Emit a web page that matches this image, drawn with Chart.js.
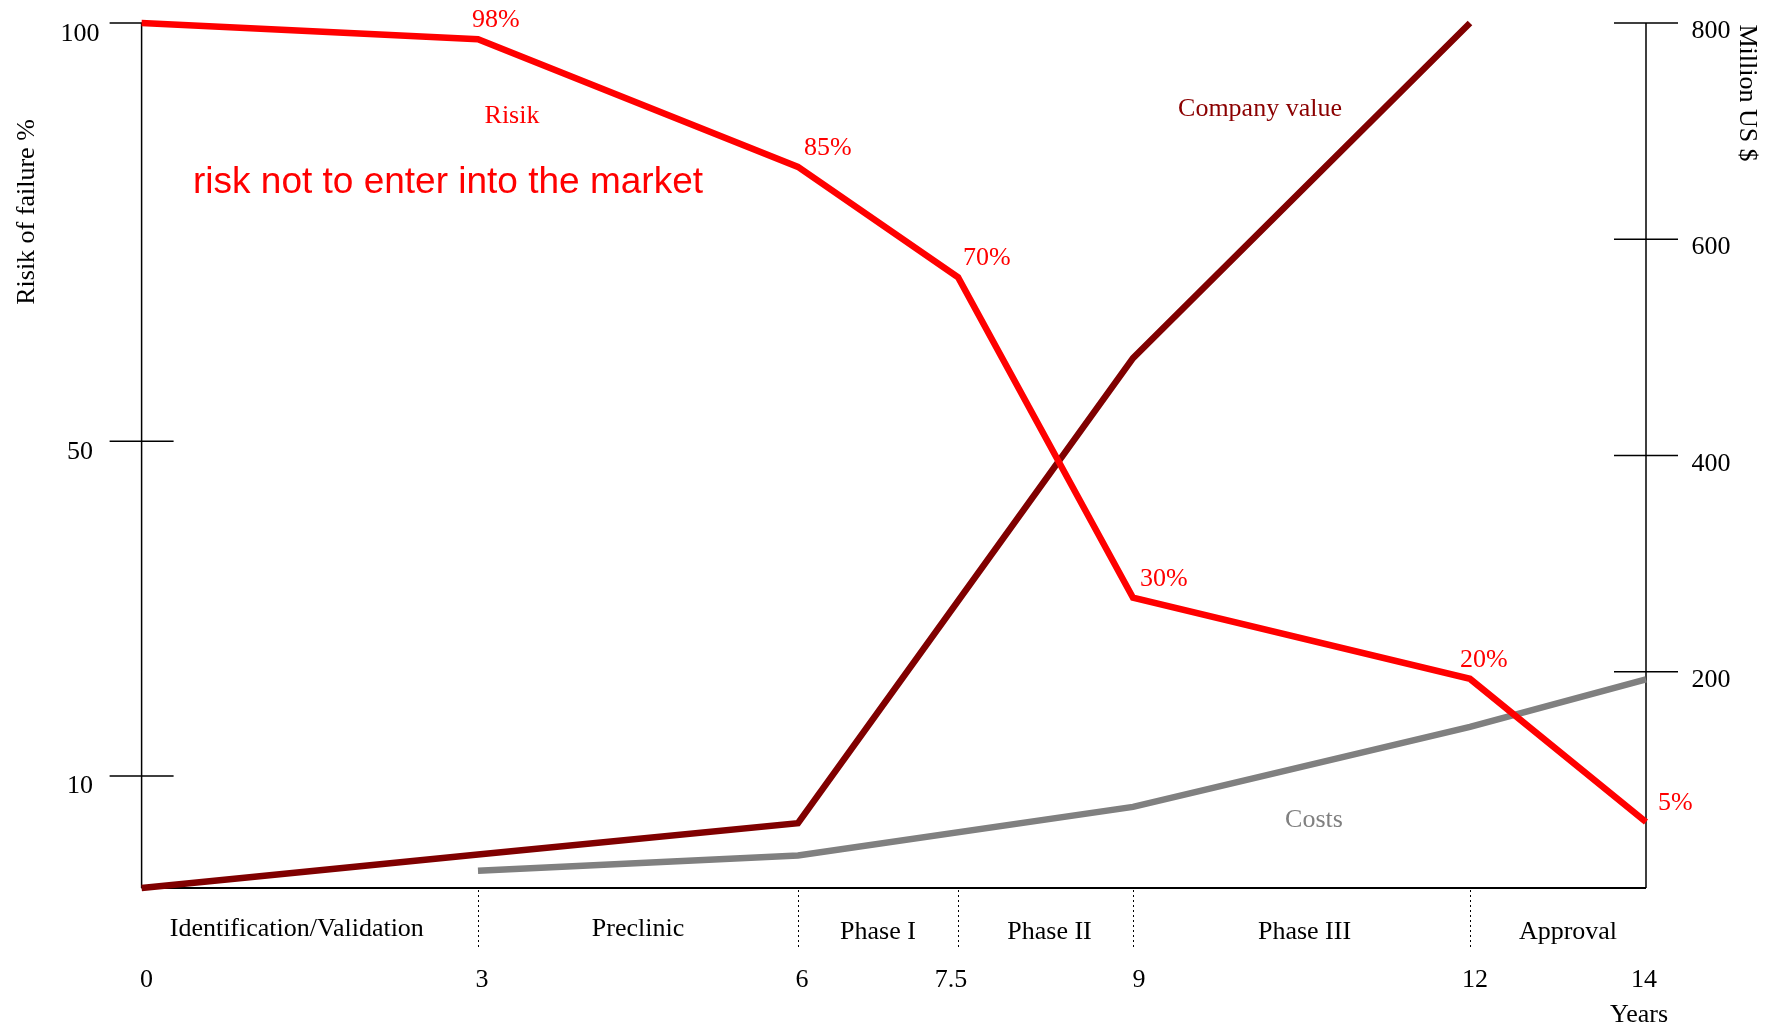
<!DOCTYPE html>
<html>

<head>
    <meta charset="utf-8">
    <title>Drug development: risk, costs and company value</title>
    <script src="https://cdn.jsdelivr.net/npm/chart.js"></script>
    <style>
        body {
            margin: 0;
            background: #fff;
        }

        .wrap {
            width: 1776px;
            height: 1026px;
        }
    </style>
</head>

<body>
    <div class="wrap"><canvas id="riskChart"></canvas></div>

    <script>
        // milestones on the time axis (years) and the phases between them
        const years = [0, 3, 6, 7.5, 9, 12, 14];
        const phases = ['Identification/Validation', 'Preclinic', 'Phase I', 'Phase II', 'Phase III', 'Approval'];

        // risk of failure in % (red curve)
        const riskYears = [0, 3, 6, 7.5, 9, 12, 14];
        const risk = [100, 98.05, 82.8, 69.6, 31.3, 21.6, 4.5];
        const riskLabels = [null, '98%', '85%', '70%', '30%', '20%', '5%'];

        // company value, million US $
        const valueYears = [0, 3, 6, 9, 12];
        const companyValue = [0, 31, 60, 490, 800];

        // costs, million US $
        const costYears = [3, 6, 9, 12, 14];
        const costs = [16, 30, 75, 149, 193];

        const leftTicks = [10, 50, 100];
        const rightTicks = [200, 400, 600, 800];

        // the years are not evenly spaced in the drawing: share of the width at each milestone
        const stopShares = [0, 0.2236, 0.4363, 0.5427, 0.659, 0.883, 1];

        function interp(v, from, to) {
            for (let i = 1; i < from.length; i++) {
                if (v <= from[i] || i === from.length - 1) {
                    const t = (v - from[i - 1]) / (from[i] - from[i - 1]);
                    return to[i - 1] + t * (to[i] - to[i - 1]);
                }
            }
        }

        class PhaseScale extends Chart.LinearScale {
            getPixelForValue(v) {
                return this.getPixelForDecimal(interp(v, years, stopShares));
            }
            getValueForPixel(p) {
                return interp(this.getDecimalForPixel(p), stopShares, years);
            }
        }
        PhaseScale.id = 'phase';
        PhaseScale.defaults = Chart.LinearScale.defaults;
        Chart.register(PhaseScale);

        const serif = '26px "Liberation Serif", "Times New Roman", serif';
        const pts = (xs, ys) => xs.map((x, i) => ({ x: x, y: ys[i] }));

        // small hand nudges so the labels sit where the original puts them
        const yearDx = [5, 4, 4, -7, 6, 5, -2];
        const phaseDx = [-13, 0, 0, 4, 3, 10];
        const riskDx = [0, -6, 6, 5, 7, -10, 12];

        const decorations = {
            id: 'decorations',
            beforeDatasetsDraw(chart) {
                const { ctx, chartArea: a, scales: { x, yL, yR } } = chart;
                ctx.save();
                ctx.strokeStyle = '#000';
                ctx.lineWidth = 1.5;
                ctx.beginPath();
                ctx.moveTo(a.left, a.top);
                ctx.lineTo(a.left, a.bottom);
                ctx.moveTo(a.right, a.bottom);
                ctx.lineTo(a.right, a.top);
                leftTicks.forEach(v => {
                    const y = yL.getPixelForValue(v);
                    ctx.moveTo(a.left - 32, y);
                    ctx.lineTo(a.left + 32, y);
                });
                rightTicks.forEach(v => {
                    const y = yR.getPixelForValue(v);
                    ctx.moveTo(a.right - 32, y);
                    ctx.lineTo(a.right + 32, y);
                });
                ctx.stroke();

                ctx.lineWidth = 2.2;
                ctx.beginPath();
                ctx.moveTo(a.left, a.bottom);
                ctx.lineTo(a.right, a.bottom);
                ctx.stroke();

                // dotted phase borders
                ctx.lineWidth = 1;
                ctx.setLineDash([2, 3]);
                ctx.beginPath();
                years.slice(1, -1).forEach(yr => {
                    const px = Math.round(x.getPixelForValue(yr)) + 0.5;
                    ctx.moveTo(px, a.bottom + 2);
                    ctx.lineTo(px, a.bottom + 60);
                });
                ctx.stroke();
                ctx.restore();
            },
            afterDatasetsDraw(chart) {
                const { ctx, scales: { x, yL, yR } } = chart;
                ctx.save();
                ctx.font = serif;
                ctx.textBaseline = 'alphabetic';

                // tick labels
                ctx.fillStyle = '#000';
                ctx.textAlign = 'center';
                leftTicks.forEach(v => ctx.fillText(String(v), 80, yL.getPixelForValue(v) + 17.5));
                rightTicks.forEach(v => ctx.fillText(String(v), 1711, yR.getPixelForValue(v) + 15));
                years.forEach((yr, i) => ctx.fillText(String(yr), x.getPixelForValue(yr) + yearDx[i], 987));
                ctx.fillText('Years', 1639, 1022);

                // phase names between the milestones
                phases.forEach((p, i) => {
                    const mid = (x.getPixelForValue(years[i]) + x.getPixelForValue(years[i + 1])) / 2;
                    ctx.fillText(p, mid + phaseDx[i], i < 2 ? 936 : 939);
                });

                // axis titles
                ctx.save();
                ctx.translate(34, 212);
                ctx.rotate(-Math.PI / 2);
                ctx.fillText('Risik of failure %', 0, 0);
                ctx.restore();
                ctx.save();
                ctx.translate(1740, 93);
                ctx.rotate(Math.PI / 2);
                ctx.fillText('Million US $', 0, 0);
                ctx.restore();

                // percentages on the risk curve
                ctx.fillStyle = '#ff0000';
                ctx.textAlign = 'left';
                riskLabels.forEach((t, i) => {
                    if (!t) return;
                    ctx.fillText(t, x.getPixelForValue(riskYears[i]) + riskDx[i], yL.getPixelForValue(risk[i]) - 12);
                });

                // curve names
                ctx.textAlign = 'center';
                ctx.fillText('Risik', 512, 123);
                ctx.fillStyle = '#8b0000';
                ctx.fillText('Company value', 1260, 116);
                ctx.fillStyle = '#808080';
                ctx.fillText('Costs', 1314, 827);

                ctx.fillStyle = '#ff0000';
                ctx.textAlign = 'left';
                ctx.font = '37px "Liberation Sans", Arial, sans-serif';
                ctx.fillText('risk not to enter into the market', 193, 193);
                ctx.restore();
            }
        };

        const lineStyle = {
            borderWidth: 6.5,
            pointRadius: 0,
            tension: 0,
            fill: false,
            clip: false,
            borderCapStyle: 'butt',
            borderJoinStyle: 'miter'
        };

        new Chart(document.getElementById('riskChart'), {
            type: 'line',
            data: {
                datasets: [
                    Object.assign({ label: 'Risik', data: pts(riskYears, risk), borderColor: '#ff0000', yAxisID: 'yL', order: 1 }, lineStyle),
                    Object.assign({ label: 'Company value', data: pts(valueYears, companyValue), borderColor: '#800000', yAxisID: 'yR', order: 2 }, lineStyle),
                    Object.assign({ label: 'Costs', data: pts(costYears, costs), borderColor: '#808080', yAxisID: 'yR', order: 3 }, lineStyle)
                ]
            },
            options: {
                responsive: true,
                maintainAspectRatio: false,
                animation: false,
                events: [],
                layout: { padding: { left: 141.6, right: 130, top: 23, bottom: 138 } },
                scales: {
                    x: { type: 'phase', min: 0, max: 14, display: false },
                    yL: { type: 'linear', position: 'left', min: -3.4, max: 100, display: false },
                    yR: { type: 'linear', position: 'right', min: 0, max: 800, display: false }
                },
                plugins: {
                    legend: { display: false },
                    tooltip: { enabled: false }
                }
            },
            plugins: [decorations]
        });
    </script>
</body>

</html>
